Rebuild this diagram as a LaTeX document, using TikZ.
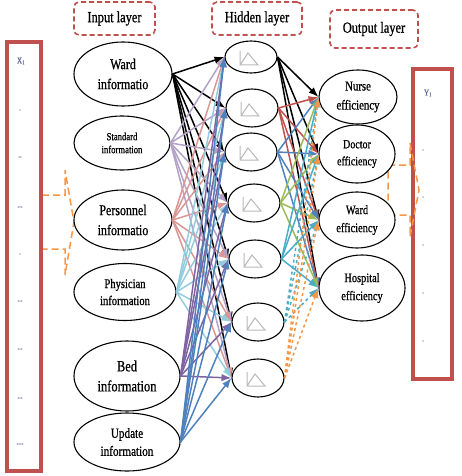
\documentclass[tikz,border=0pt]{standalone}
\usepackage{fontspec}
\setmainfont{Liberation Serif}[FakeStretch=0.8,FakeBold=0.8]
\usetikzlibrary{arrows.meta,shapes.geometric}

\definecolor{boxred}{RGB}{192,80,77}
\definecolor{arrorange}{RGB}{247,150,70}
\definecolor{inlav}{RGB}{179,162,199}
\definecolor{inrose}{RGB}{217,150,148}
\definecolor{inaqua}{RGB}{147,205,221}
\definecolor{inpurple}{RGB}{128,100,162}
\definecolor{inblue}{RGB}{79,129,189}
\definecolor{hidgreen}{RGB}{155,187,89}
\definecolor{hidcyan}{RGB}{75,172,198}
\definecolor{txtblue}{RGB}{95,105,150}

\begin{document}
\begin{tikzpicture}[x=1pt,y=-1pt,>={Latex[length=10pt,width=7.5pt]},
  layerbox/.style={draw=boxred,line width=1.6pt,dash pattern=on 5pt off 3pt,rounded corners=5pt,
    font=\fontsize{15.5}{18}\selectfont},
  redbox/.style={draw=boxred,line width=4pt},
  blockarr/.style={draw=arrorange,line width=1.5pt,dash pattern=on 7pt off 4pt},
  inode/.style={ellipse,draw,fill=white,line width=1.1pt,inner sep=0pt,align=center},
  hnode/.style={ellipse,draw,fill=white,line width=1.1pt,inner sep=0pt,minimum width=52pt,minimum height=38pt},
  icon/.style={draw=gray!55,line width=1pt},
  link/.style={line width=1.5pt},
  boxlab/.style={text=txtblue,font=\fontsize{9}{10}\selectfont,inner sep=0pt}]
  \useasboundingbox (0,0) rectangle (462,476);

  % layer titles
  \node[layerbox,minimum width=81pt,minimum height=33pt] (tin) at (114.5,18.5) {Input layer};
  \node[layerbox,minimum width=90pt,minimum height=33pt] (thid) at (257,18.5) {Hidden layer};
  \node[layerbox,minimum width=88pt,minimum height=38pt] (tout) at (374,29) {Output layer};

  % input and output bars
  \draw[blockarr] (42,195) -- (65,195) -- (65,170) -- (74,222) -- (65,275) -- (65,249) -- (42,249) -- cycle;
  \draw[redbox] (7,42) rectangle (41,471);
  \draw[redbox] (412.5,69.5) rectangle (451.5,379);
  \draw[blockarr] (388,165) -- (410,165) -- (410,143) -- (419,190) -- (410,237) -- (410,215) -- (388,215) -- cycle;

  \node[boxlab] (x1) at (21,61) {X\textsubscript{1}};
  \node[boxlab] (xd1) at (20,110) {.};
  \node[boxlab] (xd2) at (20,157) {..};
  \node[boxlab] (xd3) at (20,207) {...};
  \node[boxlab] (xd4) at (20,254) {.};
  \node[boxlab] (xd5) at (20,301) {...};
  \node[boxlab] (xd6) at (20,349) {...};
  \node[boxlab] (xd7) at (20,398) {...};
  \node[boxlab] (xd8) at (20,444) {....};
  \node[boxlab] (y1) at (428,93) {Y\textsubscript{1}};
  \foreach \y in {150,197,245,293,341}
    \node[boxlab] (yd\y) at (423,\y) {.};

  % input layer
  \node[inode,minimum width=98pt,minimum height=64pt,font=\fontsize{15}{20}\selectfont] (in1) at (123,74) {Ward\\informatio};
  \node[inode,minimum width=96pt,minimum height=54pt,font=\fontsize{10.8}{13}\selectfont] (in2) at (122,143) {Standard\\information};
  \node[inode,minimum width=98pt,minimum height=60pt,font=\fontsize{15}{20}\selectfont] (in3) at (123,220) {Personnel\\informatio};
  \node[inode,minimum width=102pt,minimum height=57pt,font=\fontsize{13.2}{17}\selectfont] (in4) at (125,292) {Physician\\information};
  \node[inode,minimum width=106pt,minimum height=70pt,font=\fontsize{15.6}{20}\selectfont] (in5) at (127,376) {Bed\\information};
  \node[inode,minimum width=106pt,minimum height=58pt,font=\fontsize{14}{18}\selectfont] (in6) at (127,442) {Update\\information};

  % hidden layer
  \node[hnode,minimum height=32pt] (h1) at (251,57) {};
  \node[hnode] (h2) at (252,108) {};
  \node[hnode] (h3) at (251,152) {};
  \node[hnode] (h4) at (254,203) {};
  \node[hnode] (h5) at (255,259) {};
  \node[hnode] (h6) at (258,322) {};
  \node[hnode] (h7) at (258,378) {};
  \foreach \j in {1,...,7}
    \draw[icon,shift={(h\j.center)}] (-11,-6) -- (-11,8) -- (7,8) -- (-3,-4) -- (-11,8);

  % output layer
  \node[inode,minimum width=78pt,minimum height=54pt,font=\fontsize{13.5}{19}\selectfont] (o1) at (358,97) {Nurse\\efficiency};
  \node[inode,minimum width=76pt,minimum height=58pt,font=\fontsize{12.5}{17}\selectfont] (o2) at (357,154) {Doctor\\efficiency};
  \node[inode,minimum width=76pt,minimum height=56pt,font=\fontsize{13}{18}\selectfont] (o3) at (357,220) {Ward\\efficiency};
  \node[inode,minimum width=86pt,minimum height=66pt,font=\fontsize{13}{18}\selectfont] (o4) at (362,288) {Hospital\\efficiency};

  % connections
  \foreach \i/\c in {1/black,2/inlav,3/inrose,4/inaqua,5/inpurple,6/inblue}
    \foreach \j in {1,...,7}
      \draw[->,link,\c] (in\i.east) -- (h\j.west);
  \foreach \j/\c/\s in {1/black/solid,2/boxred/solid,3/inblue/solid,4/hidgreen/solid,5/hidcyan/solid,6/hidcyan/dashed,7/arrorange/dashed}
    \foreach \k in {1,...,4}
      \draw[->,link,\c,\s] (h\j.east) -- (o\k.west);
\end{tikzpicture}
\end{document}
